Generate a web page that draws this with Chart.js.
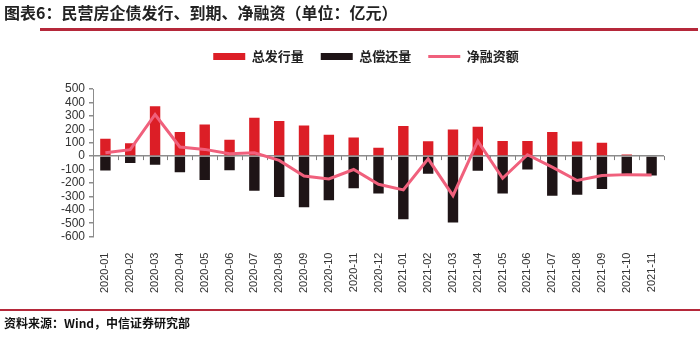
<!DOCTYPE html>
<html>
<head>
<meta charset="utf-8">
<script src="https://cdn.jsdelivr.net/npm/chart.js@4.4.1/dist/chart.umd.min.js"></script>
<style>
    body { margin: 0; background: #fff; }
    #wrap { position: relative; width: 700px; height: 345px; overflow: hidden; }
    #title { position: absolute; left: 4px; top: 0px; font: bold 16px "Noto Sans CJK SC"; color: #222; white-space: nowrap; }
    #topline { position: absolute; left: 40px; top: 28px; width: 658px; height: 3px; background: #b5283a; }
    #bottomline { position: absolute; left: 0; top: 309px; width: 700px; height: 2px; background: #b5283a; }
    #source { position: absolute; left: 4px; top: 314px; font: bold 12px "Noto Sans CJK SC"; color: #111; white-space: nowrap; }
    #chart { position: absolute; left: 0; top: 0; }
</style>
</head>
<body>
<div id="wrap">
    <canvas id="chart" width="700" height="345"></canvas>
    <div id="title">图表6：民营房企债发行、到期、净融资（单位：亿元）</div>
    <div id="topline"></div>
    <div id="bottomline"></div>
    <div id="source">资料来源：Wind，中信证券研究部</div>
</div>
<script>
const months = ["2020-01", "2020-02", "2020-03", "2020-04", "2020-05", "2020-06", "2020-07", "2020-08",
    "2020-09", "2020-10", "2020-11", "2020-12", "2021-01", "2021-02", "2021-03", "2021-04",
    "2021-05", "2021-06", "2021-07", "2021-08", "2021-09", "2021-10", "2021-11"];

const issuance = [130, 95, 372, 180, 235, 122, 285, 262, 228, 160, 138, 62,
    225, 110, 198, 218, 112, 112, 180, 108, 100, 12, 0];
const maturity = [-107, -52, -65, -120, -178, -105, -258, -305, -382, -328, -240, -278,
    -470, -132, -495, -110, -278, -100, -295, -288, -245, -140, -145];
const netFinancing = [25, 48, 310, 68, 50, 17, 25, -32, -148, -170, -100, -210,
    -252, -20, -295, 112, -165, 10, -82, -182, -145, -138, -140];

// little tick marks along the zero line, between the months
const zeroTicks = {
    id: "zeroTicks",
    beforeDatasetsDraw(chart) {
        const x = chart.scales.x, y = chart.scales.y;
        const ctx = chart.ctx;
        const y0 = y.getPixelForValue(0);
        const step = x.getPixelForTick(1) - x.getPixelForTick(0);
        ctx.save();
        ctx.strokeStyle = "#7f7f7f";
        ctx.lineWidth = 1;
        for (let i = 0; i <= months.length; i++) {
            const px = Math.round(x.getPixelForTick(0) - step / 2 + i * step) + 0.5;
            ctx.beginPath();
            ctx.moveTo(px, y0);
            ctx.lineTo(px, y0 + 4);
            ctx.stroke();
        }
        ctx.restore();
    }
};

// extra room under the legend, and nudge it a bit to the right
const legendGap = {
    id: "legendGap",
    beforeInit(chart) {
        const fit = chart.legend.fit;
        chart.legend.fit = function () {
            fit.call(this);
            this.height += 16;
        };
    },
    afterLayout(chart) {
        chart.legend.left += 15;
        chart.legend.right += 15;
    }
};

new Chart(document.getElementById("chart"), {
    type: "bar",
    data: {
        labels: months,
        datasets: [
            {
                label: "总发行量",
                data: issuance,
                backgroundColor: "#dc1e26",
                borderWidth: 0,
                stack: "bars",
                pointStyle: "rect",
                order: 2
            },
            {
                label: "总偿还量",
                data: maturity,
                backgroundColor: "#1e1416",
                borderWidth: 0,
                stack: "bars",
                pointStyle: "rect",
                order: 2
            },
            {
                type: "line",
                label: "净融资额",
                data: netFinancing,
                borderColor: "#f0607c",
                backgroundColor: "#f0607c",
                borderWidth: 3,
                pointRadius: 0,
                tension: 0,
                stack: "net",
                pointStyle: "line",
                order: 1
            }
        ]
    },
    options: {
        responsive: false,
        animation: false,
        layout: { padding: { left: 38, right: 36, top: 33, bottom: 44 } },
        datasets: { bar: { barPercentage: 1, categoryPercentage: 0.42 } },
        plugins: {
            tooltip: { enabled: false },
            legend: {
                position: "top",
                labels: {
                    usePointStyle: true,
                    pointStyleWidth: 32,
                    boxHeight: 7,
                    padding: 17,
                    color: "#222",
                    sort: (a, b) => a.datasetIndex - b.datasetIndex,
                    font: { family: "Noto Sans CJK SC", size: 13, weight: "bold" }
                }
            }
        },
        scales: {
            x: {
                grid: { display: false },
                border: { display: false },
                ticks: {
                    autoSkip: false,
                    minRotation: 90,
                    maxRotation: 90,
                    padding: 8,
                    color: "#333",
                    font: { family: "Liberation Sans", size: 11 }
                }
            },
            y: {
                stacked: true,
                min: -600,
                max: 500,
                afterFit: (scale) => { scale.width = 55; },
                ticks: {
                    stepSize: 100,
                    autoSkip: false,
                    padding: 4,
                    color: "#333",
                    font: { family: "Liberation Sans", size: 12 }
                },
                border: { display: true, color: "#8c8c8c", width: 1 },
                grid: {
                    drawTicks: true,
                    tickLength: 4,
                    tickColor: "#8c8c8c",
                    lineWidth: 1.5,
                    color: (c) => c.tick && c.tick.value === 0 ? "#8c8c8c" : "rgba(0,0,0,0)"
                }
            }
        }
    },
    plugins: [zeroTicks, legendGap]
});
</script>
</body>
</html>
